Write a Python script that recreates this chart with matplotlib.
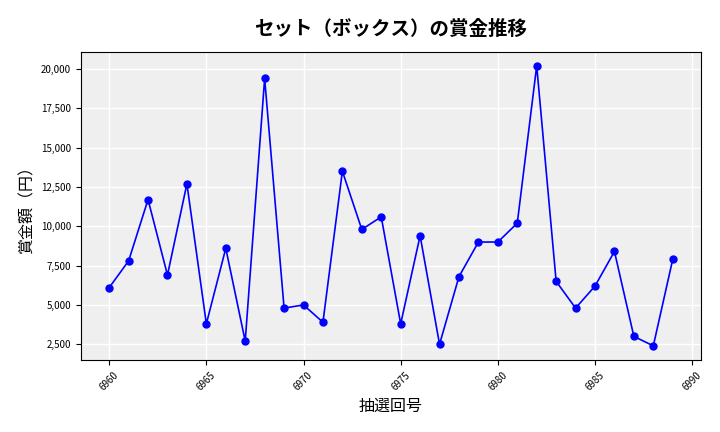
import matplotlib
matplotlib.use("Agg")
import matplotlib.pyplot as plt
from matplotlib.ticker import FuncFormatter

plt.rcParams['font.family'] = ['Noto Sans CJK JP', 'DejaVu Sans']

# 抽選回号と賞金（円）
draws = list(range(6960, 6990))
prizes = [6100, 7800, 11700, 6900, 12700, 3800, 8600, 2700, 19400, 4800,
          5000, 3900, 13500, 9800, 10600, 3800, 9400, 2500, 6800, 9000,
          9000, 10200, 20200, 6500, 4800, 6200, 8400, 3000, 2400, 7900]

fig = plt.figure(figsize=(7.2, 4.32), dpi=100)
ax = fig.add_axes([0.1125, 0.167, 0.861, 0.713])
ax.set_facecolor('#efefef')
ax.grid(True, color='white', linewidth=1.0)
ax.set_axisbelow(True)

ax.plot(draws, prizes, color='blue', marker='o', markersize=5, linewidth=1.2)

ax.set_title('セット（ボックス）の賞金推移', fontsize=14, fontweight='bold', pad=12)
ax.set_xlabel('抽選回号', fontsize=11.5)
ax.set_ylabel('賞金額（円）', fontsize=11.5)
ax.yaxis.set_major_formatter(FuncFormatter(lambda v, p: '{:,.0f}'.format(v)))
ax.tick_params(axis='x', labelrotation=45, labelsize=7)
ax.tick_params(axis='y', labelsize=7)

fig.savefig('out.png', dpi=100)
